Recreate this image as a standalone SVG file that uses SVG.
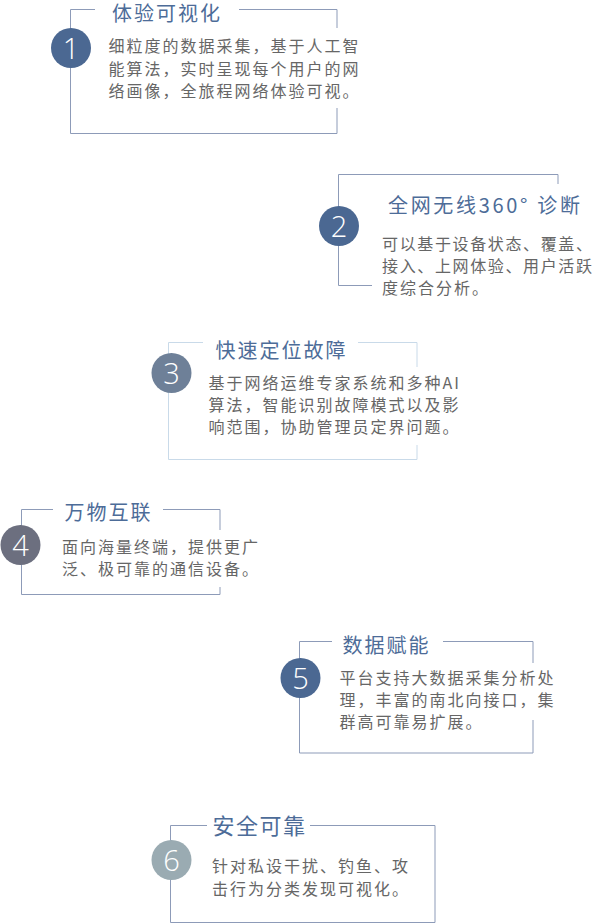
<svg xmlns="http://www.w3.org/2000/svg" width="596" height="924" viewBox="0 0 596 924">
<style>
.fr{fill:none;stroke:#8d9bb8;stroke-width:1}
.fr3{fill:none;stroke:#c9dae9;stroke-width:1}
.tt{font-family:"Noto Sans CJK SC","Noto Sans",sans-serif;font-size:20px;letter-spacing:2px;fill:#4d6c98}
.bd{font-family:"Noto Sans CJK SC","Noto Sans",sans-serif;font-size:16px;letter-spacing:2px;fill:#666666}
.nm{font-family:"Open Sans","Noto Sans","Liberation Sans",sans-serif;font-weight:300;font-size:29px;fill:#ffffff;text-anchor:middle}
</style>
<rect width="596" height="924" fill="#ffffff"/>
<g id="connectors"></g>
<g id="node1">
<path class="fr" d="M95 9.5H70.5V133.5H337V108M337 28V9.5H239"/>
<circle cx="71" cy="48" r="20" fill="#4b6892"/>
<text class="nm" x="71" y="58.5">1</text>
<text class="tt" x="112" y="21">体验可视化</text>
<text class="bd" x="108.5" y="52">细粒度的数据采集，基于人工智</text>
<text class="bd" x="108.5" y="74.5">能算法，实时呈现每个用户的网</text>
<text class="bd" x="108.5" y="97">络画像，全旅程网络体验可视。</text>
</g>
<g id="node2">
<path class="fr" d="M558 184V174.5H338.5V285.5H372"/>
<circle cx="339" cy="226" r="20" fill="#4b6892"/>
<text class="nm" x="339" y="236.5">2</text>
<text class="tt" x="388" y="213" textLength="194" lengthAdjust="spacing">全网无线360° 诊断</text>
<text class="bd" x="382" y="250" textLength="212" lengthAdjust="spacing">可以基于设备状态、覆盖、</text>
<text class="bd" x="382" y="272" textLength="212" lengthAdjust="spacing">接入、上网体验、用户活跃</text>
<text class="bd" x="382" y="294">度综合分析。</text>
</g>
<g id="node3">
<path class="fr3" d="M203 342.5H168.5V459.5H417V445M417 367V342.5H358"/>
<circle cx="171.5" cy="373" r="20" fill="#6e8098"/>
<text class="nm" x="171.5" y="383.5">3</text>
<text class="tt" x="215.5" y="357.5">快速定位故障</text>
<text class="bd" x="208.5" y="388.5">基于网络运维专家系统和多种AI</text>
<text class="bd" x="208.5" y="411">算法，智能识别故障模式以及影</text>
<text class="bd" x="208.5" y="433">响范围，协助管理员定界问题。</text>
</g>
<g id="node4">
<path class="fr" d="M53 509.5H21.5V594.5H220V587M220 530V509.5H163"/>
<circle cx="20.5" cy="545" r="20" fill="#6c6f7f"/>
<text class="nm" x="20.5" y="555.5">4</text>
<text class="tt" x="64.5" y="520">万物互联</text>
<text class="bd" x="62" y="553">面向海量终端，提供更广</text>
<text class="bd" x="62" y="575">泛、极可靠的通信设备。</text>
</g>
<g id="node5">
<path class="fr" d="M332 641.5H299.5V753H533V720M533 663V641.5H443"/>
<circle cx="300.5" cy="678" r="20" fill="#4b6892"/>
<text class="nm" x="300.5" y="688.5">5</text>
<text class="tt" x="342.5" y="652.5">数据赋能</text>
<text class="bd" x="339.5" y="684">平台支持大数据采集分析处</text>
<text class="bd" x="339.5" y="706">理，丰富的南北向接口，集</text>
<text class="bd" x="339.5" y="728">群高可靠易扩展。</text>
</g>
<g id="node6">
<path class="fr" d="M207 825.5H170.5V922.5H435V825.5H310"/>
<circle cx="171.5" cy="860" r="20" fill="#9aabb2"/>
<text class="nm" x="171.5" y="870.5">6</text>
<text class="tt" x="212.5" y="834" style="font-size:22px;letter-spacing:1.5px">安全可靠</text>
<text class="bd" x="212" y="872">针对私设干扰、钓鱼、攻</text>
<text class="bd" x="212" y="894.5">击行为分类发现可视化。</text>
</g>
</svg>
